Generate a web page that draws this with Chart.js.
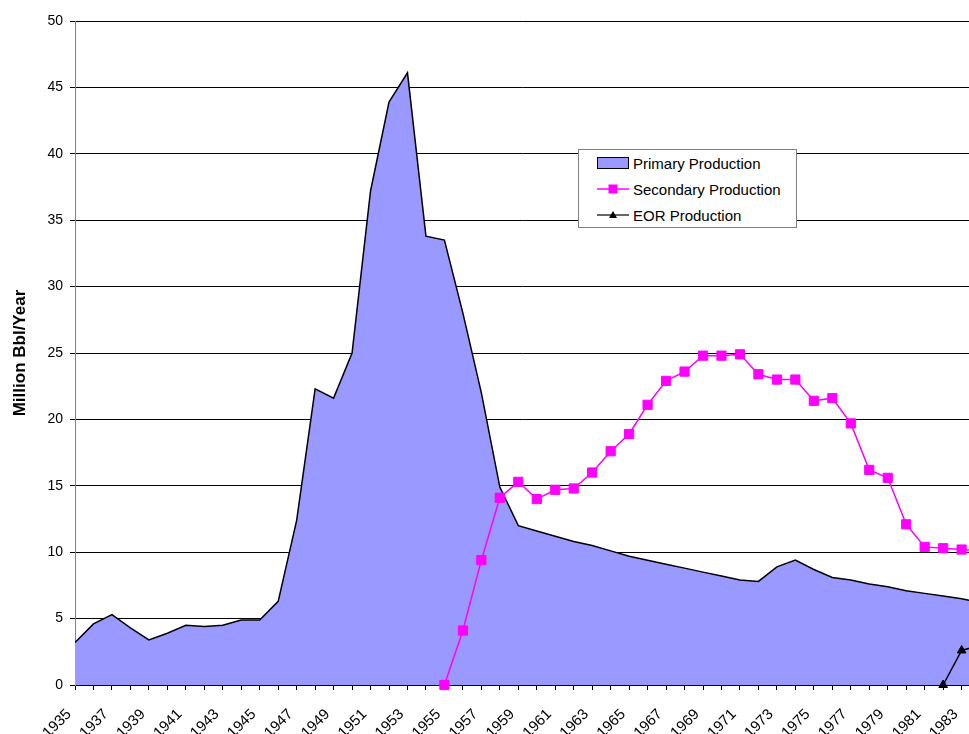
<!DOCTYPE html>
<html>
<head>
<meta charset="utf-8">
<script src="https://cdn.jsdelivr.net/npm/chart.js"></script>
<style>
  body { margin: 0; background: #fff; }
  #wrap { position: relative; width: 969px; height: 734px; }
  #legend {
    position: absolute; left: 578px; top: 149px; width: 219px; height: 79px;
    box-sizing: border-box; border: 1px solid #808080; background: #fff;
    font: 15px 'Liberation Sans', Arial, sans-serif; color: #000;
  }
  .row { position: absolute; left: 18px; height: 20px; display: flex; align-items: center; white-space: nowrap; }
  .row svg { margin-right: 4px; }
</style>
</head>
<body>
<div id="wrap">
  <canvas id="chart" width="969" height="734"></canvas>
  <div id="legend"></div>
</div>
<script>
const years = [1935, 1936, 1937, 1938, 1939, 1940, 1941, 1942, 1943, 1944,
  1945, 1946, 1947, 1948, 1949, 1950, 1951, 1952, 1953, 1954,
  1955, 1956, 1957, 1958, 1959, 1960, 1961, 1962, 1963, 1964,
  1965, 1966, 1967, 1968, 1969, 1970, 1971, 1972, 1973, 1974,
  1975, 1976, 1977, 1978, 1979, 1980, 1981, 1982, 1983, 1984];

// every other year gets a label on the x axis
const labelYears = [1935, 1937, 1939, 1941, 1943, 1945, 1947, 1949, 1951, 1953,
  1955, 1957, 1959, 1961, 1963, 1965, 1967, 1969, 1971, 1973,
  1975, 1977, 1979, 1981, 1983];

// million bbl per year
const primary = [3.2, 4.6, 5.3, 4.3, 3.4, 3.9, 4.5, 4.4, 4.5, 4.9,
  4.9, 6.3, 12.4, 22.3, 21.6, 25.0, 37.2, 43.9, 46.1, 33.8,
  33.5, 28.0, 22.0, 14.9, 12.0, 11.6, 11.2, 10.8, 10.5, 10.1,
  9.7, 9.4, 9.1, 8.8, 8.5, 8.2, 7.9, 7.8, 8.9, 9.4,
  8.7, 8.1, 7.9, 7.6, 7.4, 7.1, 6.9, 6.7, 6.5, 6.2];

const secondary = [null, null, null, null, null, null, null, null, null, null,
  null, null, null, null, null, null, null, null, null, null,
  0, 4.1, 9.4, 14.1, 15.3, 14.0, 14.7, 14.8, 16.0, 17.6,
  18.9, 21.1, 22.9, 23.6, 24.8, 24.8, 24.9, 23.4, 23.0, 23.0,
  21.4, 21.6, 19.7, 16.2, 15.6, 12.1, 10.4, 10.3, 10.2, 10.1];

const eor = [null, null, null, null, null, null, null, null, null, null,
  null, null, null, null, null, null, null, null, null, null,
  null, null, null, null, null, null, null, null, null, null,
  null, null, null, null, null, null, null, null, null, null,
  null, null, null, null, null, null, null, 0, 2.6, 3.0];

const seriesNames = ['Primary Production', 'Secondary Production', 'EOR Production'];

const pts = (vals) => years.map((yr, i) => ({ x: yr, y: vals[i] }));

const FONT = "'Liberation Sans', Arial, sans-serif";
Chart.defaults.font.family = FONT;
Chart.defaults.color = '#000';

// rotated year labels, anchored just below each odd-year tick
const yearLabels = {
  id: 'yearLabels',
  afterDraw(chart) {
    const xs = chart.scales.x;
    const c = chart.ctx;
    c.save();
    c.font = '15px ' + FONT;
    c.fillStyle = '#000';
    c.textAlign = 'right';
    c.textBaseline = 'middle';
    labelYears.forEach((yr) => {
      const px = xs.getPixelForValue(yr);
      c.save();
      c.translate(px - 6, xs.top + 27);
      c.rotate(-Math.PI / 4);
      c.fillText(String(yr), 0, 0);
      c.restore();
    });
    c.restore();
  },
};

const ctx = document.getElementById('chart').getContext('2d');

new Chart(ctx, {
  type: 'line',
  data: {
    datasets: [
      {
        label: seriesNames[0],
        data: pts(primary),
        fill: 'origin',
        backgroundColor: '#9999ff',
        borderColor: '#000',
        borderWidth: 1.5,
        pointRadius: 0,
        order: 3,
      },
      {
        label: seriesNames[1],
        data: pts(secondary),
        borderColor: '#ff00ff',
        backgroundColor: '#ff00ff',
        borderWidth: 1.5,
        pointStyle: 'rect',
        pointRadius: 6.5,
        pointBorderWidth: 1,
        clip: false,
        order: 2,
      },
      {
        label: seriesNames[2],
        data: pts(eor),
        borderColor: '#000',
        backgroundColor: '#000',
        borderWidth: 1.5,
        pointStyle: 'triangle',
        pointRadius: 5,
        pointBorderWidth: 1,
        clip: false,
        order: 1,
      },
    ],
  },
  options: {
    responsive: false,
    animation: false,
    layout: { autoPadding: false, padding: { top: 21, right: 0, bottom: 0, left: 0 } },
    plugins: {
      legend: { display: false },
      tooltip: { enabled: false },
    },
    scales: {
      x: {
        type: 'linear',
        bounds: 'data',
        min: 1935,
        max: 1983.4,
        grid: { drawOnChartArea: false, color: '#000', tickLength: 5 },
        border: { color: '#000', width: 1 },
        ticks: {
          display: false,
          stepSize: 1,
          autoSkip: false,
          includeBounds: false,
        },
        afterFit: (s) => { s.height = 49; },
      },
      y: {
        min: 0,
        max: 50,
        ticks: { stepSize: 5, padding: 7, font: { size: 14 } },
        grid: { color: '#000', tickLength: 5 },
        border: { color: '#808080', width: 1 },
        title: {
          display: true,
          text: 'Million Bbl/Year',
          font: { size: 17, weight: 'bold' },
          padding: { top: 10, bottom: 0 },
        },
        afterFit: (s) => { s.width = 75; },
      },
    },
  },
  plugins: [yearLabels],
});

// legend box, drawn as html over the plot
const symbols = [
  '<svg width="32" height="14"><rect x="0.5" y="1.5" width="31" height="11" fill="#9999ff" stroke="#000"/></svg>',
  '<svg width="32" height="14"><line x1="0" y1="7" x2="32" y2="7" stroke="#ff00ff" stroke-width="1.5"/><rect x="11.5" y="2.5" width="9" height="9" fill="#ff00ff"/></svg>',
  '<svg width="32" height="14"><line x1="0" y1="7" x2="32" y2="7" stroke="#000" stroke-width="1.2"/><polygon points="16,3 20,10 12,10" fill="#000"/></svg>',
];
const legend = document.getElementById('legend');
seriesNames.forEach((name, i) => {
  const row = document.createElement('div');
  row.className = 'row';
  row.style.top = (3 + i * 26) + 'px';
  row.innerHTML = symbols[i] + '<span>' + name + '</span>';
  legend.appendChild(row);
});
</script>
</body>
</html>
